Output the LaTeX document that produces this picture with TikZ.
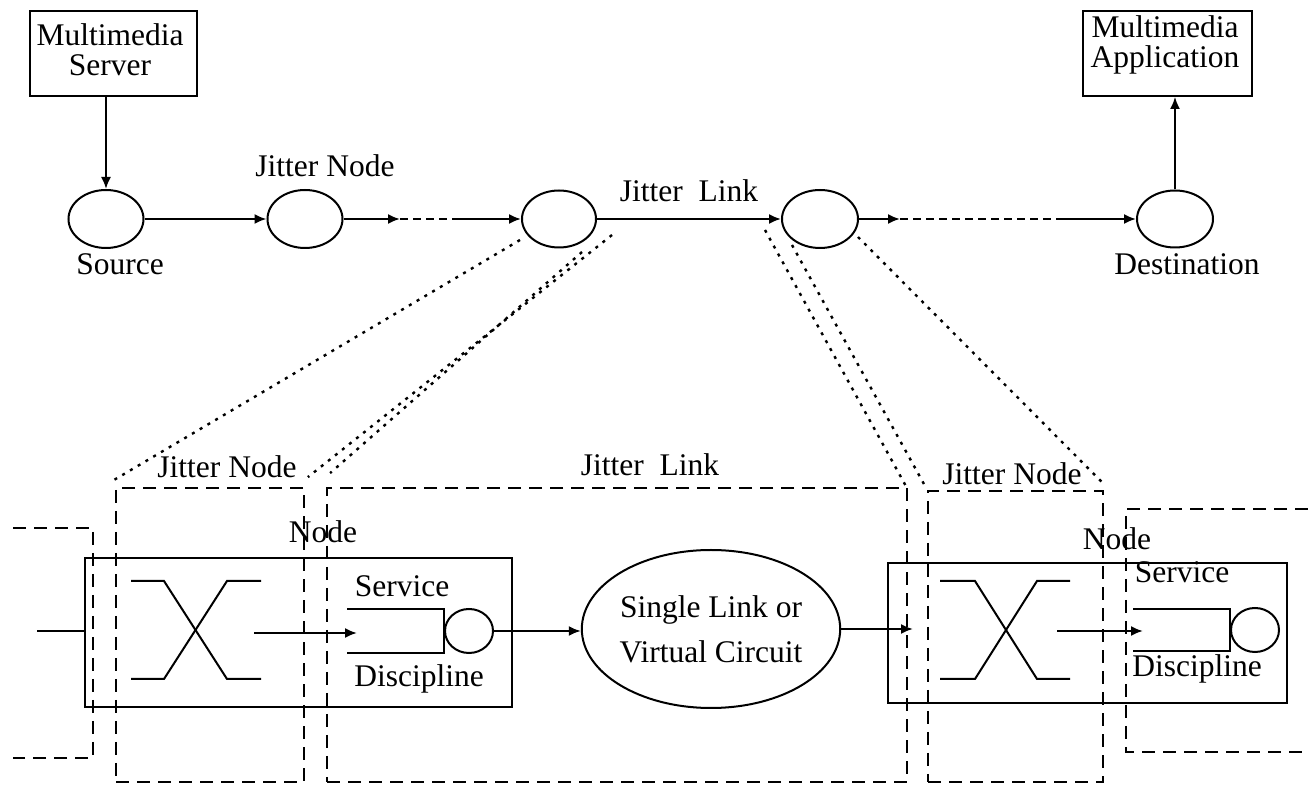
\documentclass[tikz,border=0pt]{standalone}
\usepackage{fontspec}
\setmainfont{Liberation Serif}
\usetikzlibrary{arrows.meta,shapes.geometric}
\tikzset{
  conn/.style={line width=1pt,-{Latex[length=6pt,width=5pt]}},
  plain/.style={line width=1pt},
  oval/.style={ellipse,draw,line width=1pt,inner sep=0pt},
  box/.style={rectangle,draw,line width=0.9pt,inner sep=0pt},
  dashbox/.style={rectangle,draw,line width=0.9pt,dash pattern=on 6.5pt off 4pt,inner sep=0pt},
  dashline/.style={line width=1pt,dash pattern=on 4pt off 2.5pt},
  proj/.style={line width=1.2pt,dash pattern=on 1.5pt off 3pt},
  lbl/.style={inner sep=0pt,anchor=base,align=center},
}
\begin{document}
\begin{tikzpicture}[x=0.5pt,y=-0.5pt,font=\fontsize{15.75}{14}\selectfont]
\useasboundingbox (0,0) rectangle (1308,785);

% ---------- end-to-end path ----------
\node[box,minimum width=83.5pt,minimum height=42.5pt] (srv) at (113.5,53.5) {};
\node[lbl,font=\fontsize{15.75}{15}\selectfont] (srvtxt) at (110,76) {Multimedia\\Server};
\node[box,minimum width=84.5pt,minimum height=42.5pt] (app) at (1167.5,53.5) {};
\node[lbl,font=\fontsize{15.75}{15}\selectfont] (apptxt) at (1165,68) {Multimedia\\Application};

\node[oval,minimum width=37.5pt,minimum height=29pt] (src) at (106,219) {};
\node[oval,minimum width=37.5pt,minimum height=29pt] (jn1) at (305,219) {};
\node[oval,minimum width=37pt,minimum height=28.5pt] (jn2) at (559,219) {};
\node[oval,minimum width=38pt,minimum height=29pt] (jn3) at (820,219) {};
\node[oval,minimum width=38pt,minimum height=28.5pt] (dst) at (1175,219) {};

\node[lbl] (srclbl) at (120,275) {Source};
\node[lbl] (jn1lbl) at (325,177) {Jitter Node};
\node[lbl] (jllbl) at (689,202) {Jitter\hspace{0.5em}Link};
\node[lbl] (dstlbl) at (1187,275) {Destination};

\coordinate (d1a) at (400,219);
\coordinate (d1b) at (458,219);
\coordinate (d2a) at (900,219);
\coordinate (d2b) at (1063,219);

\draw[conn] (srv.south -| src.north) -- (src.north);
\draw[conn] (src) -- (jn1);
\draw[conn] (jn1) -- (d1a);
\draw[dashline] (d1a) -- (d1b);
\draw[conn] (d1b) -- (jn2);
\draw[conn] (jn2) -- (jn3);
\draw[conn] (jn3) -- (d2a);
\draw[dashline] (d2a) -- (d2b);
\draw[conn] (d2b) -- (dst);
\draw[conn] (dst.north) -- (dst.north |- app.south);

% ---------- detailed view ----------
\node[box,minimum width=213.5pt,minimum height=74.5pt] (nodeL) at (298.5,632.5) {};
\node[box,minimum width=199.5pt,minimum height=70pt] (nodeR) at (1087.5,633) {};

\node[dashbox,minimum width=94pt,minimum height=147pt] (jnL) at (210,635) {};
\node[dashbox,minimum width=290pt,minimum height=147pt] (jl) at (617,635) {};
\node[dashbox,minimum width=87.5pt,minimum height=145.5pt] (jnR) at (1015.5,636.5) {};
\draw[line width=0.9pt,dash pattern=on 6.5pt off 4pt] (1308,509) -- (1126,509) -- (1126,752) -- (1308,752);
\draw[line width=0.9pt,dash pattern=on 6.5pt off 4pt] (13,528) -- (93,528) -- (93,758) -- (13,758);

\node[lbl] (jnLlbl) at (227,478) {Jitter Node};
\node[lbl] (jllbl2) at (650,476) {Jitter\hspace{0.5em}Link};
\node[lbl] (jnRlbl) at (1012,485) {Jitter Node};
\node[lbl] (nLlbl) at (323,543) {Node};
\node[lbl] (nRlbl) at (1117,550) {Node};

% switch fabrics
\draw[plain] (131,581) -- (164,581) -- (227,679) -- (261,679);
\draw[plain] (131,679) -- (164,679) -- (227,581) -- (261,581);
\draw[plain] (940,581) -- (975,581) -- (1037,679) -- (1070,679);
\draw[plain] (940,679) -- (975,679) -- (1037,581) -- (1070,581);

% output queues with their servers
\node[oval,minimum width=24pt,minimum height=22pt] (svL) at (469,631) {};
\node[oval,minimum width=24pt,minimum height=22pt] (svR) at (1255,630) {};
\draw[plain] (347,609) -- (svL.west |- 0,609) -- (svL.west |- 0,653) -- (347,653);
\draw[plain] (1133,609) -- (svR.west |- 0,609) -- (svR.west |- 0,651) -- (1133,651);
\node[lbl] (svcL) at (402,597) {Service};
\node[lbl] (dscL) at (419,687) {Discipline};
\node[lbl] (svcR) at (1182,583) {Service};
\node[lbl] (dscR) at (1197,677) {Discipline};

\node[oval,minimum width=103pt,minimum height=79pt,align=center] (sl) at (711,629) {Single Link or\\[7pt]Virtual Circuit};

\coordinate (inL) at (37,631);
\coordinate (xoL) at (254,633);
\coordinate (qiL) at (357,633);
\coordinate (inR) at (913,629);
\coordinate (xoR) at (1057,631);
\coordinate (qiR) at (1143,631);

\draw[plain] (inL) -- (inL -| nodeL.west);
\draw[conn] (xoL) -- (qiL);
\draw[conn] (svL.east) -- (svL.east -| sl.west);
\draw[conn] (sl.east) -- (inR);
\draw[conn] (xoR) -- (qiR);

% projections of the path elements onto the detailed view
\coordinate (pa) at (520,240);
\coordinate (pb) at (612,235);
\coordinate (pc) at (582,252);
\coordinate (pd) at (765,230);
\coordinate (pe) at (792,245);
\coordinate (pf) at (858,237);
\draw[proj] (pa) -- ([shift={(-3,-6)}]jnL.north west);
\draw[proj] (pb) -- ([shift={(3,-10)}]jnL.north east);
\draw[proj] (pc) -- ([shift={(4,-14)}]jl.north west);
\draw[proj] (pd) -- ([shift={(-2,-1)}]jl.north east);
\draw[proj] (pe) -- ([shift={(-2,-4)}]jnR.north west);
\draw[proj] (pf) -- ([shift={(0,-6)}]jnR.north east);
\end{tikzpicture}
\end{document}
